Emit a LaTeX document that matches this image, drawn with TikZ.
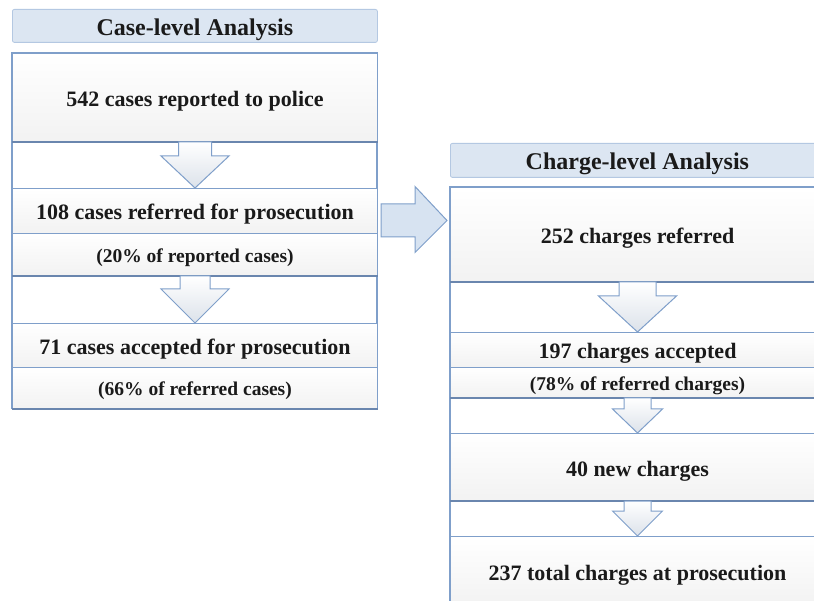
\documentclass[tikz,border=0pt]{standalone}
\usepackage{fontspec}
\setmainfont{Liberation Serif}
\usetikzlibrary{calc}
\definecolor{bordc}{HTML}{7F9FCA}
\definecolor{shadc}{HTML}{6A86AE}
\definecolor{hdrfill}{HTML}{DCE6F2}
\definecolor{hdrbord}{HTML}{B4C8E2}
\definecolor{arrbot}{HTML}{DCE2EA}
\definecolor{rarrfill}{HTML}{D7E3F1}
\definecolor{txtc}{HTML}{1A1A1A}
\tikzset{
  hdr/.style={draw=hdrbord, fill=hdrfill, line width=0.8pt, rounded corners=2pt, inner sep=0pt,
    anchor=north west, text=txtc, font=\fontsize{24}{26}\selectfont\bfseries,
    text height=21pt, text depth=2pt},
  box/.style={draw=bordc, top color=white, bottom color=black!5, line width=1pt, inner sep=0pt,
    anchor=north west, text=txtc, font=\fontsize{22}{24}\selectfont\bfseries,
    text height=20pt, text depth=2pt},
  subbox/.style={box, font=\fontsize{19.5}{21}\selectfont\bfseries, text height=18pt, text depth=2pt},
  colframe/.style={draw=bordc, fill=white, line width=1.2pt},
  shadowline/.style={draw=shadc, line width=2.2pt},
  arrst/.style={draw=bordc, line width=1pt, top color=white, bottom color=arrbot, line join=miter},
  rarrst/.style={draw=bordc, line width=1pt, fill=rarrfill, line join=miter}
}
% #1 top node, #2 bottom node, #3 half shaft, #4 half head, #5 head start offset
\newcommand\dnarr[5]{%
  \path[arrst] ($(#1.south)+(-#3,0)$) -- ($(#1.south)+(#3,0)$) -- ($(#1.south)+(#3,#5)$)
    -- ($(#1.south)+(#4,#5)$) -- (#2.north) -- ($(#1.south)+(-#4,#5)$)
    -- ($(#1.south)+(-#3,#5)$) -- cycle;}
\begin{document}
\begin{tikzpicture}[x=1pt,y=-1pt]
\useasboundingbox (0,0) rectangle (814,601);
\clip (0,0) rectangle (814,601);
\fill[white] (0,0) rectangle (814,601);

% ---------- left column ----------
\node[hdr, minimum width=365pt, minimum height=33pt] (hdrL) at (12,9) {Case-level Analysis};
\coordinate (lcTL) at (12,53);
\coordinate (lcBR) at (377,408);
\draw[colframe] (lcTL) rectangle (lcBR);
\node[box, minimum width=365pt, minimum height=88pt] (caseA) at (12,53) {542 cases reported to police};
\node[box, minimum width=365pt, minimum height=45pt] (caseB) at (12,188) {108 cases referred for prosecution};
\node[subbox, minimum width=365pt, minimum height=42pt] (caseBp) at (12,233) {(20\% of reported cases)};
\node[box, minimum width=365pt, minimum height=44pt] (caseC) at (12,323) {71 cases accepted for prosecution};
\node[subbox, minimum width=365pt, minimum height=41pt] (caseCp) at (12,367) {(66\% of referred cases)};
\draw[shadowline] (caseA.south west) -- (caseA.south east);
\draw[shadowline] (caseBp.south west) -- (caseBp.south east);
\draw[shadowline] (caseCp.south west) -- (caseCp.south east);
\dnarr{caseA}{caseB}{16.5}{34}{14}
\dnarr{caseBp}{caseC}{15}{34}{13}

% ---------- right column ----------
\node[hdr, minimum width=374pt, minimum height=34pt] (hdrR) at (450,143) {Charge-level Analysis};
\coordinate (rcTL) at (450,187);
\coordinate (rcBR) at (824,610);
\draw[colframe] (rcTL) rectangle (rcBR);
\node[box, minimum width=374pt, minimum height=94pt] (chA) at (450,187) {252 charges referred};
\node[box, minimum width=374pt, minimum height=35pt] (chB) at (450,332) {197 charges accepted};
\node[subbox, minimum width=374pt, minimum height=30pt] (chBp) at (450,367) {(78\% of referred charges)};
\node[box, minimum width=374pt, minimum height=67pt] (chC) at (450,433) {40 new charges};
\node[box, minimum width=374pt, minimum height=70pt] (chD) at (450,536) {237 total charges at prosecution};
\draw[shadowline] (chA.south west) -- (chA.south east);
\draw[shadowline] (chBp.south west) -- (chBp.south east);
\draw[shadowline] (chC.south west) -- (chC.south east);
\dnarr{chA}{chB}{18.5}{39}{14}
\dnarr{chBp}{chC}{13.5}{25}{11}
\dnarr{chC}{chD}{13.5}{25}{10}

% ---------- horizontal arrow ----------
\coordinate (rs) at ($(caseB.east)+(3,9.5)$);
\coordinate (re) at ($(rs -| chA.west)+(-3,0)$);
\path[rarrst] ($(rs)+(0,-16.5)$) -- ($(rs)+(34,-16.5)$) -- ($(rs)+(34,-34)$) -- (re)
  -- ($(rs)+(34,32)$) -- ($(rs)+(34,16.5)$) -- ($(rs)+(0,16.5)$) -- cycle;
\end{tikzpicture}
\end{document}
